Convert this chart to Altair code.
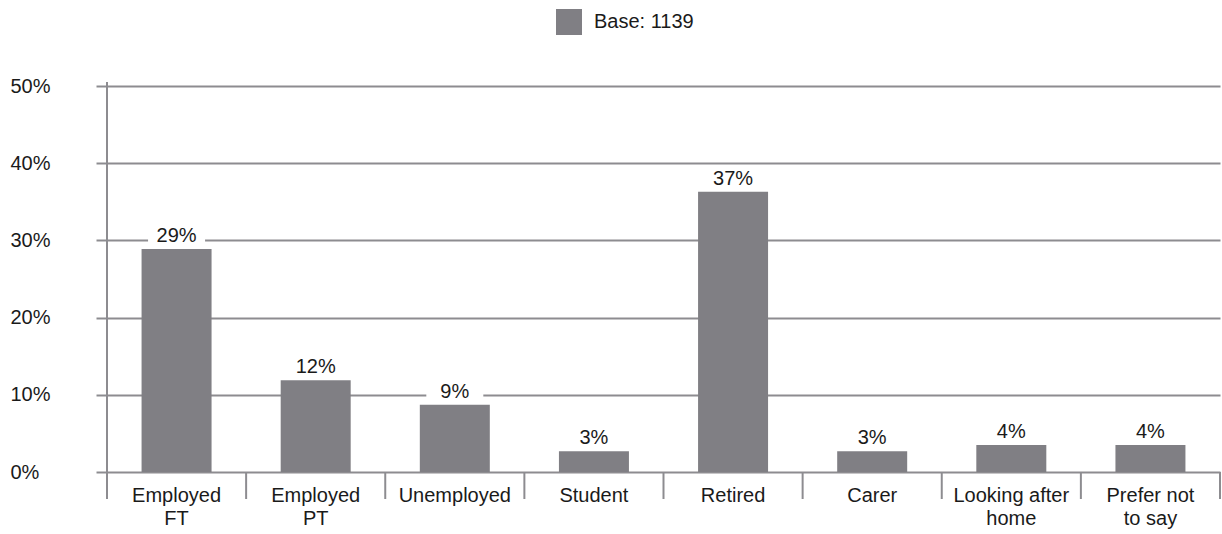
import altair as alt
import pandas as pd

categories = ["Employed|FT", "Employed|PT", "Unemployed", "Student", "Retired",
              "Carer", "Looking after|home", "Prefer not|to say"]
values = [28.9, 11.9, 8.7, 2.7, 36.3, 2.7, 3.5, 3.5]
value_labels = ["29%", "12%", "9%", "3%", "37%", "3%", "4%", "4%"]
series_name = "Base: 1139"
y_ticks = [0, 10, 20, 30, 40, 50]

df = pd.DataFrame({
    "cat": categories,
    "value": values,
    "label": value_labels,
    "series": [series_name] * len(categories),
})
df["box_top"] = df["value"] + 3.2

W, H = 1113, 386
FONT = "Liberation Sans"
FS = 20
GRID = "#8d8c90"
BAR = "#807f84"
TXT = "#1a1a1a"

x_axis = alt.Axis(title=None, domain=False, ticks=False, labelAngle=0,
                  labelExpr="split(datum.label, '|')", labelFontSize=FS,
                  labelLineHeight=23, labelPadding=13, labelFont=FONT,
                  labelColor=TXT, labelOverlap=False)
x_scale = alt.Scale(paddingInner=0, paddingOuter=0)
xenc = alt.X("cat:N", sort=categories, scale=x_scale, axis=x_axis)

y_scale = alt.Scale(domain=[0, 50], nice=False)
y_axis = alt.Axis(title=None, values=y_ticks, labelExpr="datum.value + '%'",
                  domain=False, tickSize=11, tickColor=GRID, tickWidth=2,
                  grid=True, gridColor=GRID, gridWidth=2, labelAlign="left",
                  labelPadding=86, labelFontSize=FS, labelFont=FONT,
                  labelColor=TXT)
yenc = alt.Y("value:Q", scale=y_scale, axis=y_axis)

base = alt.Chart(df)

boxes = base.mark_bar(size=57, color="white").encode(
    x=xenc, y=yenc, y2="box_top:Q")

bars = base.mark_bar(size=70).encode(
    x=xenc, y=yenc,
    color=alt.Color("series:N", scale=alt.Scale(range=[BAR]),
                    legend=alt.Legend(title=None, orient="none", legendX=449,
                                      legendY=-77, symbolType="square",
                                      symbolSize=676, symbolStrokeWidth=0,
                                      symbolOpacity=1, labelFontSize=FS,
                                      labelFont=FONT, labelColor=TXT,
                                      labelOffset=12, padding=0)))

texts = base.mark_text(dy=-7, baseline="alphabetic", fontSize=FS, font=FONT,
                       color=TXT).encode(x=xenc, y=yenc, text="label:N")

seps = base.mark_rule(color=GRID, strokeWidth=2).encode(
    x=alt.X("cat:N", sort=categories, scale=x_scale, axis=x_axis, bandPosition=0),
    y=alt.value(H), y2=alt.value(H + 27))

end_sep = base.mark_rule(color=GRID, strokeWidth=2).encode(
    x=alt.value(W), y=alt.value(H), y2=alt.value(H + 27))

yline = base.mark_rule(color=GRID, strokeWidth=2).encode(
    x=alt.value(0), y=alt.value(-4), y2=alt.value(H + 27))

chart = alt.layer(boxes, bars, texts, seps, end_sep, yline).properties(
    width=W, height=H,
    padding={"left": 107, "top": 86, "right": 2, "bottom": 62},
    autosize=alt.AutoSizeParams(type="none"),
).configure_view(stroke=None)

chart.save("out.html", embed_options={"renderer": "svg", "actions": False})
